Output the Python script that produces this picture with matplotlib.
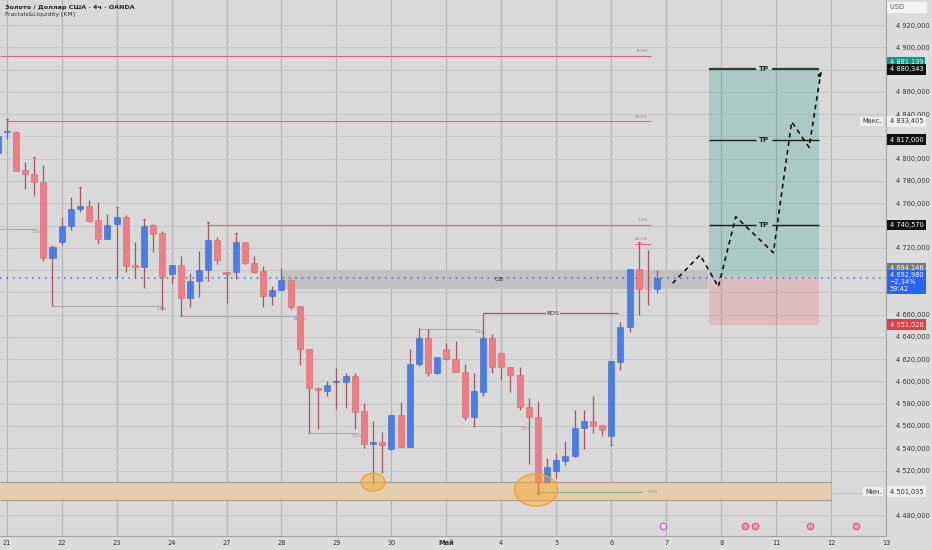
import numpy as np
import matplotlib
matplotlib.use("Agg")
import matplotlib.pyplot as plt
import matplotlib.transforms as mtrans
from matplotlib.patches import Rectangle, Ellipse

# 4h bars, first bar is the last one of 20 April (index -1)
first_bar = -1
opens = [4805.0, 4824.0, 4824.2, 4789.8, 4786.2, 4779.0, 4711.0, 4725.5, 4739.8, 4754.5,
         4757.2, 4745.0, 4728.1, 4741.6, 4747.6, 4704.8, 4703.0, 4740.4, 4733.0, 4696.2,
         4704.5, 4674.6, 4690.4, 4700.0, 4727.0, 4698.0, 4698.0, 4725.2, 4706.6, 4699.1,
         4676.7, 4681.8, 4691.0, 4667.7, 4629.1, 4594.0, 4591.6, 4599.3, 4599.7, 4604.9,
         4573.2, 4544.1, 4545.3, 4539.3, 4569.5, 4541.4, 4615.6, 4639.3, 4607.3, 4629.1,
         4619.8, 4608.7, 4568.3, 4590.8, 4638.7, 4625.2, 4612.7, 4605.5, 4576.7, 4568.3,
         4509.4, 4519.8, 4528.8, 4533.0, 4558.0, 4564.2, 4560.8, 4551.0, 4617.7, 4648.6,
         4700.7, 4683.4, 4682.7]
highs = [4822.0, 4833.4, 4824.8, 4797.3, 4799.5, 4794.3, 4722.5, 4747.4, 4765.3, 4772.8,
         4762.6, 4761.0, 4750.0, 4754.8, 4749.2, 4724.9, 4744.0, 4741.0, 4734.8, 4704.8,
         4712.6, 4697.0, 4717.4, 4741.0, 4730.0, 4698.3, 4731.2, 4725.6, 4712.9, 4703.6,
         4685.7, 4701.6, 4692.0, 4668.0, 4629.5, 4594.7, 4600.6, 4611.8, 4607.3, 4607.8,
         4580.3, 4564.4, 4554.3, 4570.2, 4581.8, 4629.1, 4647.7, 4646.8, 4622.0, 4634.8,
         4636.5, 4615.6, 4607.3, 4661.0, 4642.6, 4626.7, 4613.2, 4612.7, 4584.8, 4582.6,
         4531.0, 4535.4, 4546.7, 4574.3, 4574.3, 4586.9, 4561.0, 4618.6, 4653.6, 4700.7,
         4723.5, 4718.0, 4700.0]
lows = [4800.0, 4817.7, 4788.8, 4772.8, 4766.8, 4708.4, 4667.7, 4722.5, 4736.0, 4752.4,
        4743.2, 4723.4, 4728.0, 4692.6, 4698.5, 4692.6, 4684.2, 4716.5, 4664.1, 4687.5,
        4657.6, 4667.0, 4676.1, 4690.4, 4705.4, 4670.7, 4691.7, 4705.6, 4697.0, 4667.0,
        4668.6, 4681.5, 4665.0, 4614.7, 4553.9, 4557.0, 4586.9, 4575.0, 4575.8, 4557.0,
        4539.9, 4509.1, 4518.0, 4538.5, 4541.0, 4541.0, 4614.1, 4604.9, 4607.0, 4619.2,
        4608.5, 4565.3, 4559.3, 4586.9, 4607.3, 4601.3, 4590.8, 4574.3, 4525.8, 4501.0,
        4509.0, 4513.0, 4525.0, 4532.5, 4539.6, 4553.4, 4551.0, 4545.0, 4610.2, 4644.6,
        4659.6, 4668.6, 4679.1]
closes = [4820.0, 4825.2, 4789.2, 4786.0, 4779.0, 4711.0, 4721.0, 4739.8, 4754.8, 4757.2,
          4744.3, 4728.1, 4740.2, 4747.6, 4703.9, 4703.0, 4739.8, 4732.6, 4694.0, 4704.4,
          4674.6, 4690.4, 4700.3, 4727.0, 4709.0, 4696.4, 4725.2, 4706.0, 4698.2, 4676.7,
          4681.8, 4691.0, 4667.1, 4629.1, 4593.8, 4592.3, 4596.5, 4600.7, 4604.9, 4572.8,
          4543.8, 4545.3, 4542.6, 4569.8, 4541.4, 4615.6, 4639.3, 4607.3, 4621.6, 4619.8,
          4608.7, 4568.3, 4591.4, 4638.7, 4613.2, 4612.7, 4605.5, 4576.7, 4567.8, 4509.7,
          4523.4, 4529.4, 4533.0, 4558.4, 4564.2, 4560.2, 4556.4, 4618.6, 4648.6, 4700.7,
          4683.0, 4682.6, 4692.98]

day_labels = ["21", "22", "23", "24", "27", "28", "29", "30", "Май", "4", "5", "6",
              "7", "8", "11", "12", "13"]
bars_per_day = 6

fractal_high_bars = [0, 3, 8, 12, 15, 22, 25, 69]
fractal_low_bars = [58, 66]

# liquidity lines: start bar, end bar, price, label
liq_start = [-0.7, 4.9, 18.9, 32.9, 44.9, 50.7]
liq_end = [3.3, 16.9, 32.0, 38.2, 51.6, 56.7]
liq_price = [4736.6, 4668.0, 4658.7, 4554.0, 4646.8, 4560.0]
liq_text = ["1.5%", "1.5%", "60.1%", "1.5%", "1.4%", "1.2%"]

red_levels = [4892.2, 4833.4, 4740.6, 4723.5]
red_start = [-0.7, 0, 21.9, 68.6]
red_text = ["11.9%", "10.9%", "7.1%", "62.1%"]
level_end = 70.3

ob_top, ob_bottom, ob_from, ob_to = 4700.0, 4682.7, 30, 76.6
bos_price, bos_from, bos_to = 4661.0, 52, 66.7
zone_top, zone_bottom, zone_to = 4509.7, 4493.5, 90.0
sweep_lows = [(40, 4509.5, 2.6, 16.0), (57.8, 4502.5, 4.7, 29.0)]

entry, stop = 4694.146, 4651.026
tp_levels = [4740.57, 4817.0, 4880.343]
pos_from, pos_to = 76.7, 88.7
last_price = 4692.98
max_price, min_price = 4833.405, 4501.035
hidden_ticks = [4880, 4820, 4740, 4700, 4680, 4500]

path_x = [72.7, 75.7, 77.7, 79.6, 83.7, 85.7, 87.6, 88.9]
path_y = [4688.1, 4713.5, 4685.0, 4747.9, 4715.6, 4833.2, 4810.2, 4877.6]

bg = "#d9d9d9"
red = "#ef7d86"
blue = "#4a7de8"

fig = plt.figure(figsize=(9.32, 5.5), dpi=100, facecolor="#dcdcdc")
ax = fig.add_axes([0, 14 / 550, 886 / 932, 536 / 550])
ax.set_facecolor(bg)
ax.set_xlim(-0.73, 95.89)
ax.set_ylim(4461.2, 4942.5)

# grid
yt = np.arange(4480, 4921, 20)
ax.set_yticks(yt)
ax.set_yticklabels(["" if v in hidden_ticks else
                    f"{v:,.3f}".replace(",", " ").replace(".", ",") for v in yt])
day_pos = np.arange(len(day_labels)) * bars_per_day
ax.set_xticks(day_pos)
ax.set_xticklabels(day_labels)
for lab in ax.get_xticklabels():
    if lab.get_text() == "Май":
        lab.set_fontweight("bold")
ax.yaxis.tick_right()
ax.tick_params(axis="both", length=0, labelsize=4.8, colors="#333333")
ax.tick_params(axis="y", pad=7)
ax.tick_params(axis="x", pad=3)
ax.grid(axis="y", color="#c7c7c7", lw=0.8, zorder=0)
ax.grid(axis="x", color="#b3b3b3", lw=0.8, zorder=0)
ax.set_axisbelow(True)
for s in ["top", "left"]:
    ax.spines[s].set_visible(False)
for s in ["right", "bottom"]:
    ax.spines[s].set_color("#a3a3a3")
    ax.spines[s].set_linewidth(0.8)

# liquidity zone at the bottom
ax.add_patch(Rectangle((-0.73, zone_bottom), zone_to + 0.73, zone_top - zone_bottom,
                       fc="#e3cdb0", ec="none", zorder=1))
ax.hlines([zone_top, zone_bottom], -0.73, zone_to, color="#a59a8c", lw=0.8, zorder=1.2)

# order block
ax.add_patch(Rectangle((ob_from, ob_bottom), ob_to - ob_from, ob_top - ob_bottom,
                       fc="#c1c1c1", ec="none", zorder=1))
ax.text((ob_from + ob_to) / 2 + 0.5, (ob_top + ob_bottom) / 2, "OB", fontsize=4.5,
        color="#333333", ha="center", va="center", zorder=3)

# long position box
ax.add_patch(Rectangle((pos_from, entry), pos_to - pos_from, tp_levels[-1] - entry,
                       fc="#089981", alpha=0.22, ec="none", zorder=1))
ax.add_patch(Rectangle((pos_from, stop), pos_to - pos_from, entry - stop,
                       fc="#f23645", alpha=0.17, ec="none", zorder=1))
mid = (pos_from + pos_to) / 2
for k, lv in enumerate(tp_levels):
    lw = 1.6 if k == len(tp_levels) - 1 else 1.0
    col = "#2f3b37" if k == len(tp_levels) - 1 else "#1a1a1a"
    ax.hlines(lv, pos_from, mid - 0.9, color=col, lw=lw, zorder=3)
    ax.hlines(lv, mid + 0.9, pos_to, color=col, lw=lw, zorder=3)
    ax.text(mid, lv, "TP", fontsize=5, fontweight="bold", color="#222222",
            ha="center", va="center", zorder=3)

# red percentage levels
for lv, x0, t in zip(red_levels, red_start, red_text):
    ax.hlines(lv, x0, level_end, color="#e0646f", lw=0.8, zorder=1.5)
    ax.text(level_end - 0.3, lv + 2.5, t, fontsize=3, color="#8a8a8a",
            ha="right", va="bottom", zorder=2)

# liquidity lines
for x0, x1, p, t in zip(liq_start, liq_end, liq_price, liq_text):
    ax.hlines(p, x0, x1, color="#a6a6a6", lw=0.7, zorder=1.5)
    ax.text(x1, p - 1, t, fontsize=3, color="#8a8a8a", ha="center", va="top", zorder=2)
ax.hlines(min_price, 57.8, 69.4, color="#6fb27a", lw=0.7, zorder=1.5)
ax.text(70.0, min_price, "1.5%", fontsize=3, color="#8a8a8a", ha="left", va="center")

# BOS
ax.hlines(bos_price, bos_from, bos_to, color="#a65058", lw=0.9, zorder=2)
ax.text((bos_from + bos_to) / 2 + 0.3, bos_price, "BOS", fontsize=4.5, color="#333333",
        ha="center", va="center", zorder=3,
        bbox=dict(boxstyle="square,pad=0.15", fc=bg, ec="none"))

# current price line
ax.axhline(last_price, color="#3a6af0", lw=1.1, ls=(0, (1, 3.2)), zorder=2.5)

# candles
x = np.arange(len(opens)) + first_bar
o = np.array(opens)
c = np.array(closes)
up = c >= o
body_col = np.where(up, blue, red)
edge_col = np.where(up, "#3d68c9", "#d6636d")
ax.vlines(x, lows, highs, color="#a0585f", lw=0.9, zorder=4)
ax.bar(x, np.maximum(np.abs(c - o), 0.7), bottom=np.minimum(o, c), width=0.66,
       color=body_col, edgecolor=edge_col, lw=0.4, zorder=5)

ax.scatter(fractal_high_bars, [highs[i - first_bar] + 1.0 for i in fractal_high_bars],
           marker="v", s=5, color="#d9414f", zorder=6, lw=0)
ax.scatter(fractal_low_bars, [lows[i - first_bar] - 1.0 for i in fractal_low_bars],
           marker="^", s=5, color="#2fa46a", zorder=6, lw=0)

# sweep circles
for cx, cy, w, h in sweep_lows:
    ax.add_patch(Ellipse((cx, cy), w, h, fc=(1.0, 0.64, 0.15, 0.45), ec="#f0a03a",
                         lw=1.0, zorder=6))

# projected path
ax.plot(path_x, path_y, color="black", lw=1.1, ls=(0, (3, 2.6)), zorder=7)
ax.annotate("", xy=(path_x[-1] + 0.2, path_y[-1] + 2), xytext=(path_x[-1] - 0.4, path_y[-1] - 6),
            arrowprops=dict(arrowstyle="-|>", color="black", lw=0.8, mutation_scale=5), zorder=7)

# event icons at the bottom
ax.scatter([71.6], [4470.5], s=22, fc="#f3e6f5", ec="#b04bc8", lw=0.7, zorder=6)
ax.scatter([80.6, 81.7, 87.7, 92.7], [4470.5] * 4, s=22, fc="#e6a3b5", ec="#e0455a",
           lw=0.7, zorder=6)

# price tags on the right scale
tr = mtrans.blended_transform_factory(ax.transAxes, ax.transData)


def tag(y, text, fc, tc="white", va="center"):
    ax.text(1.004, y, text, transform=tr, fontsize=4.8, color=tc, va=va, ha="left",
            linespacing=1.2, clip_on=False, zorder=20,
            bbox=dict(boxstyle="square,pad=0.35", fc=fc, ec="none"))


tag(4936.0, "USD          ", "#f4f4f4", tc="#555555")
tag(4886.6, "4 881,139", "#089981")
tag(tp_levels[2], "4 880,343", "#111111")
tag(max_price, "4 833,405", "#eeeeee", tc="#333333")
tag(tp_levels[1], "4 817,000", "#111111")
tag(tp_levels[0], "4 740,570", "#111111")
tag(4701.6, "4 694,146", "#7a7a7a")
tag(4698.4, "4 692,980\n−2,34%\n59:42", "#2962ff", va="top")
tag(stop, "4 651,026", "#f23645")
tag(min_price, "4 501,035", "#eeeeee", tc="#333333")
for y, t in [(max_price, "Макс."), (min_price, "Мин.")]:
    ax.text(0.995, y, t, transform=tr, fontsize=4.8, color="#333333", ha="right", va="center",
            zorder=20, bbox=dict(boxstyle="square,pad=0.25", fc="#eeeeee", ec="none"))

# header
fig.text(5 / 932, 1 - 7 / 550, "Золото / Доллар США · 4ч · OANDA", fontsize=4.6,
         fontweight="bold", color="#222222", va="center")
fig.text(5 / 932, 1 - 14.5 / 550, "Fractals&Liquidity [KM]", fontsize=4.3,
         color="#333333", va="center")

fig.savefig("out.png", dpi=100, facecolor=fig.get_facecolor())
